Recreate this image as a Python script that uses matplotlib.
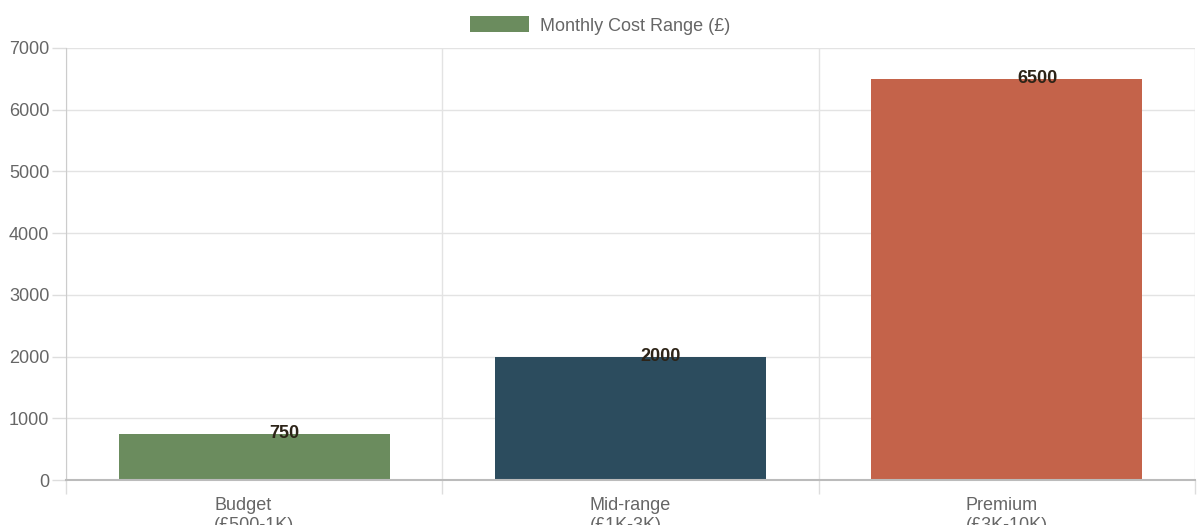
import numpy as np
import matplotlib.pyplot as plt
from matplotlib.patches import Patch

# datos
categories = ["Budget\n(£500-1K)", "Mid-range\n(£1K-3K)", "Premium\n(£3K-10K)"]
values = [750, 2000, 6500]
colors = ["#6b8c5e", "#2c4c5e", "#c4634a"]
legend_label = "Monthly Cost Range (£)"
y_ticks = [0, 1000, 2000, 3000, 4000, 5000, 6000, 7000]

plt.rcParams['font.family'] = ['Liberation Sans', 'DejaVu Sans']

fig = plt.figure(figsize=(12, 5.25), dpi=100)
ax = fig.add_axes([0.055, 0.0857, 0.9408, 0.8229])

x = np.arange(len(categories))
bars = ax.bar(x, values, width=0.72, color=colors, zorder=2)

# etiquetas de valores
for xi, v in zip(x, values):
    ax.annotate(str(v), (xi, v), xytext=(22, 0), textcoords="offset points",
                ha="center", va="center", fontsize=13, fontweight="bold",
                color="#2d2418", zorder=3)

ax.set_xlim(-0.5, 2.5)
ax.set_ylim(0, 7000)
ax.set_yticks(y_ticks)
ax.set_xticks(x)
ax.set_xticklabels(categories, linespacing=1.25)
for lbl in ax.get_xticklabels():
    lbl.set_multialignment("left")
ax.set_xticks([-0.5, 0.5, 1.5, 2.5], minor=True)

ax.grid(True, axis="y", color="#e3e3e3", linewidth=1, zorder=0)
ax.grid(True, axis="x", which="minor", color="#e3e3e3", linewidth=1, zorder=0)

ax.tick_params(axis="y", length=10, width=1, color="#dddddd", pad=2,
               labelsize=13, labelcolor="#666666")
ax.tick_params(axis="x", which="major", length=0, pad=12,
               labelsize=13, labelcolor="#666666")
ax.tick_params(axis="x", which="minor", length=10, width=1, color="#dddddd")

for side in ["top", "right"]:
    ax.spines[side].set_visible(False)
ax.spines["left"].set_color("#cccccc")
ax.spines["bottom"].set_color("#bbbbbb")
ax.spines["bottom"].set_linewidth(1.5)

handle = Patch(facecolor=colors[0], edgecolor="none")
fig.legend([handle], [legend_label], loc="upper center", bbox_to_anchor=(0.5, 1.0),
           frameon=False, fontsize=13, labelcolor="#666666",
           handlelength=3.3, handleheight=1.0, handletextpad=0.6)

fig.savefig("out.png", dpi=100)
